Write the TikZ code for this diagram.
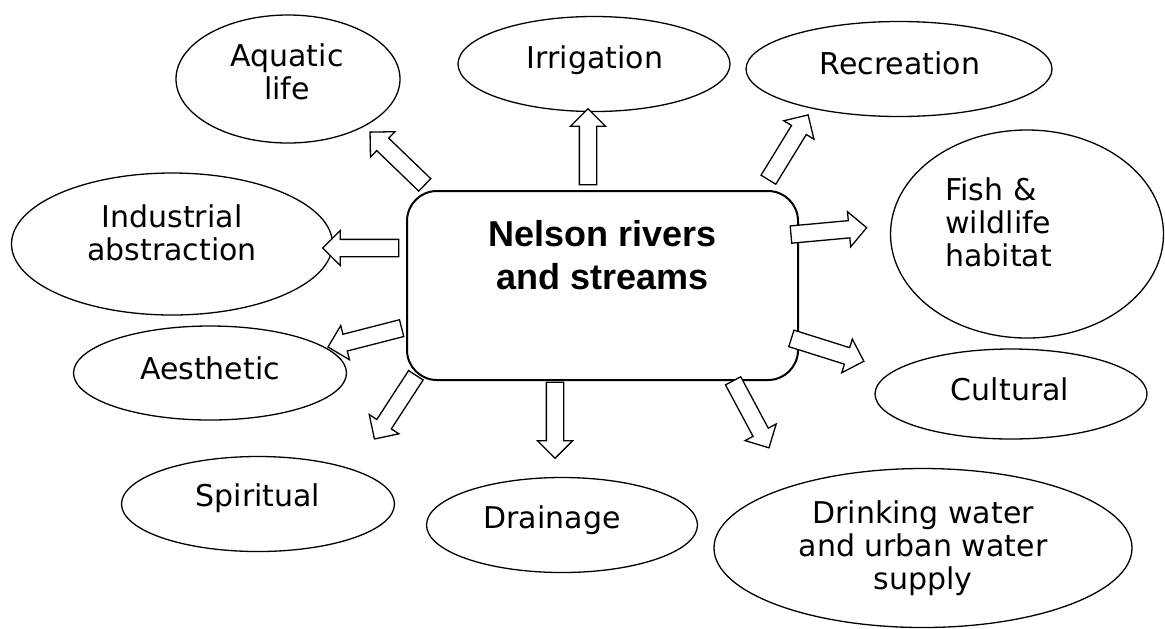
\documentclass[tikz,border=0pt]{standalone}
\usepackage{fontspec}
\setmainfont{DejaVu Sans}
\newfontfamily\titlefont{Liberation Sans}
\usepackage{tikz}
\usetikzlibrary{shapes,arrows,calc,positioning}
\tikzset{fontscale/.style = {font=\fontsize{15}{16.5}\selectfont}}
\tikzstyle{oval}=[ellipse, draw, line width=0.65pt, inner sep=0pt]
\tikzstyle{lbl}=[rectangle, align=center, inner sep=0pt, fontscale]
\tikzstyle{hub}=[rectangle, draw, line width=1pt, rounded corners=15pt, minimum width=195.5pt, minimum height=94.5pt]

\begin{document}
\begin{tikzpicture}[x=0.5pt, y=-0.5pt, blockarrow/.style={single arrow, draw, fill=white, line width=0.65pt, inner xsep=0pt, inner ysep=4pt, minimum height=38pt, single arrow head extend=4.5pt, single arrow tip angle=90, sloped, allow upside down}]
\useasboundingbox (0,0) rectangle (1165,628);

% centre box
\node[hub] (river) at (602.5,285.5) {};
\node[lbl, font=\titlefont\fontsize{18}{21.5}\selectfont\bfseries] (title) at (603,255) {Nelson rivers\\and streams};

% ellipses
\node[oval, minimum width=112pt, minimum height=64pt] (aquatic) at (288,79) {};
\node[oval, minimum width=136pt, minimum height=47.5pt] (irrig) at (594,64) {};
\node[oval, minimum width=153pt, minimum height=47.5pt] (recr) at (899,69) {};
\node[oval, minimum width=136.5pt, minimum height=104pt] (fish) at (1027,234) {};
\node[oval, minimum width=160.5pt, minimum height=71pt] (indus) at (172,244) {};
\node[oval, minimum width=136.5pt, minimum height=47pt] (aesth) at (210,373) {};
\node[oval, minimum width=136pt, minimum height=45pt] (cult) at (1011,394) {};
\node[oval, minimum width=136.5pt, minimum height=47.5pt] (spirit) at (258,504) {};
\node[oval, minimum width=135.5pt, minimum height=47.5pt] (drain) at (562,525) {};
\node[oval, minimum width=209pt, minimum height=79.5pt] (drink) at (923,548) {};

% labels
\node[lbl] at (287,72) {Aquatic\\life};
\node[lbl] at (595,60) {Irrigation};
\node[lbl] at (900,63) {Recreation};
\node[lbl, align=left, anchor=west] at (945,222) {Fish \&\\wildlife\\habitat};
\node[lbl] at (172,233) {Industrial\\abstraction};
\node[lbl] at (210,368) {Aesthetic};
\node[lbl] at (1010,389) {Cultural};
\node[lbl] at (258,498) {Spiritual};
\node[lbl] at (552,520) {Drainage};
\node[lbl] at (923,548) {Drinking water\\and urban water\\supply};

% arrow ends
\coordinate (aq0) at (428,188);  \coordinate (aq1) at (373,135);
\coordinate (ir0) at (588,190);  \coordinate (ir1) at (588,112);
\coordinate (re0) at (767,182);  \coordinate (re1) at (805,120);
\coordinate (fi0) at (786,235);  \coordinate (fi1) at (863,228);
\coordinate (in0) at (403,248);  \coordinate (in1) at (327,248);
\coordinate (ae0) at (406,327);  \coordinate (ae1) at (332,346);
\coordinate (cu0) at (787,337);  \coordinate (cu1) at (860,360);
\coordinate (sp0) at (418,372);  \coordinate (sp1) at (377,435);
\coordinate (dr0) at (555,377);  \coordinate (dr1) at (555,455);
\coordinate (dk0) at (730,375);  \coordinate (dk1) at (768,446);

% block arrows
\path (aq0) -- node[blockarrow] {} (aq1);
\path (ir0) -- node[blockarrow] {} (ir1);
\path (re0) -- node[blockarrow] {} (re1);
\path (fi0) -- node[blockarrow] {} (fi1);
\path (in0) -- node[blockarrow] {} (in1);
\path (ae0) -- node[blockarrow] {} (ae1);
\path (cu0) -- node[blockarrow] {} (cu1);
\path (sp0) -- node[blockarrow] {} (sp1);
\path (dr0) -- node[blockarrow] {} (dr1);
\path (dk0) -- node[blockarrow] {} (dk1);
\end{tikzpicture}
\end{document}
